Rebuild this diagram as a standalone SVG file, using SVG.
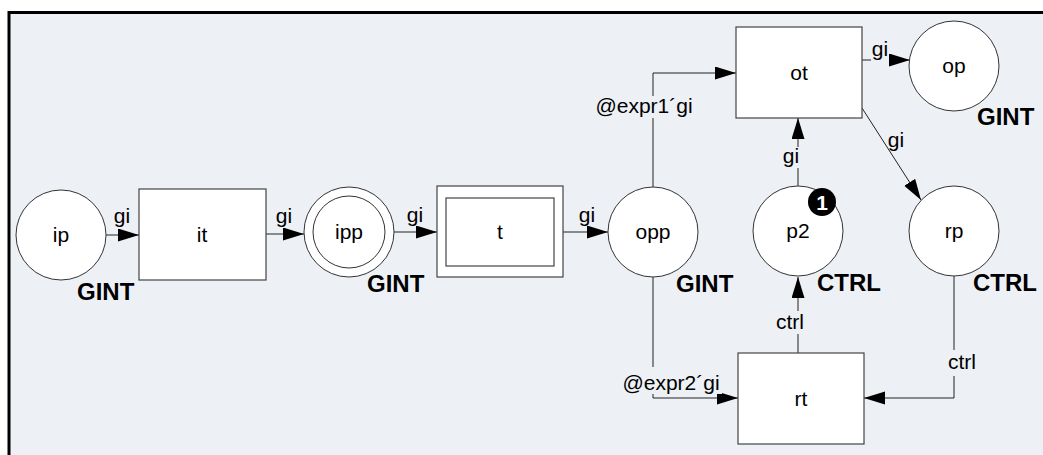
<svg xmlns="http://www.w3.org/2000/svg" width="1043" height="455" viewBox="0 0 1043 455">
  <style>
    .place { fill: #ffffff; stroke: #333333; stroke-width: 1; }
    .trans { fill: #ffffff; stroke: #444444; stroke-width: 1.2; }
    .name { font-family: "Liberation Sans", Arial, sans-serif; font-size: 21px; fill: #000000; text-anchor: middle; }
    .type { font-family: "Liberation Sans", Arial, sans-serif; font-size: 24px; font-weight: bold; fill: #000000; }
    .arc { fill: none; stroke: #222222; stroke-width: 1; marker-end: url(#head); }
    .lbl { font-family: "Liberation Sans", Arial, sans-serif; font-size: 21px; fill: #000000; text-anchor: middle; }
    .lblbg { fill: #edf0f5; }
  </style>
  <defs>
    <marker id="head" markerWidth="22" markerHeight="14" refX="21" refY="6.5" orient="auto" markerUnits="userSpaceOnUse">
      <path d="M0,0 L21,6.5 L0,13 Z" fill="#000000"/>
    </marker>
  </defs>

  <!-- page frame -->
  <rect x="0" y="0" width="1043" height="455" fill="#ffffff"/>
  <rect x="9" y="12" width="1034" height="443" fill="#edf0f5"/>
  <path d="M9,455 V12.5 H1043" fill="none" stroke="#000000" stroke-width="3"/>

  <!-- arcs -->
  <g id="connectors">
    <path class="arc" d="M106,235 H139"/>
    <path class="arc" d="M266,234 H304"/>
    <path class="arc" d="M394,232 H437"/>
    <path class="arc" d="M563,232 H608"/>
    <path class="arc" d="M653,187 V73 H736"/>
    <path class="arc" d="M862,60 H910"/>
    <path class="arc" d="M862,108 L921,200"/>
    <path class="arc" d="M798,186 V118"/>
    <path class="arc" d="M798,353 V277"/>
    <path class="arc" d="M653,277 V398 H738"/>
    <path class="arc" d="M954,276 V398 H864"/>

    <!-- arc inscriptions -->
    <text class="lbl" x="122" y="223">gi</text>
    <text class="lbl" x="284" y="223">gi</text>
    <text class="lbl" x="415" y="222">gi</text>
    <text class="lbl" x="587" y="222">gi</text>
    <rect class="lblbg" x="594" y="96" width="100" height="22"/>
    <text class="lbl" x="644" y="113">@expr1´gi</text>
    <rect class="lblbg" x="871" y="41" width="18" height="22"/>
    <text class="lbl" x="880" y="56">gi</text>
    <text class="lbl" x="896" y="147">gi</text>
    <rect class="lblbg" x="781" y="147" width="20" height="21"/>
    <text class="lbl" x="791" y="163">gi</text>
    <rect class="lblbg" x="774" y="311" width="32" height="23"/>
    <text class="lbl" x="790" y="329">ctrl</text>
    <rect class="lblbg" x="620" y="367" width="102" height="27"/>
    <text class="lbl" x="671" y="390">@expr2´gi</text>
    <rect class="lblbg" x="946" y="350" width="32" height="26"/>
    <text class="lbl" x="962" y="369">ctrl</text>
  </g>

  <!-- places -->
  <g id="ip">
    <circle class="place" cx="61" cy="235" r="45"/>
    <text class="name" x="61" y="242">ip</text>
    <text class="type" x="77" y="300">GINT</text>
  </g>
  <g id="ipp">
    <circle class="place" cx="349" cy="232" r="45"/>
    <circle class="place" cx="349" cy="232" r="36"/>
    <text class="name" x="349" y="239">ipp</text>
    <text class="type" x="367" y="292">GINT</text>
  </g>
  <g id="opp">
    <circle class="place" cx="653" cy="232" r="45"/>
    <text class="name" x="653" y="239">opp</text>
    <text class="type" x="676" y="292">GINT</text>
  </g>
  <g id="op">
    <circle class="place" cx="954" cy="66" r="45"/>
    <text class="name" x="954" y="73">op</text>
    <text class="type" x="977" y="125">GINT</text>
  </g>
  <g id="p2">
    <circle class="place" cx="798" cy="231" r="45"/>
    <text class="name" x="798" y="238">p2</text>
    <text class="type" x="817" y="291">CTRL</text>
    <circle cx="822" cy="202" r="14" fill="#000000"/>
    <text x="822" y="210" fill="#ffffff" font-family="Liberation Sans, Arial, sans-serif" font-size="21" font-weight="bold" text-anchor="middle">1</text>
  </g>
  <g id="rp">
    <circle class="place" cx="954" cy="231" r="45"/>
    <text class="name" x="954" y="238">rp</text>
    <text class="type" x="973" y="291">CTRL</text>
  </g>

  <!-- transitions -->
  <g id="it">
    <rect class="trans" x="139" y="189" width="127" height="91"/>
    <text class="name" x="202" y="242">it</text>
  </g>
  <g id="t">
    <rect class="trans" x="437" y="186" width="126" height="91"/>
    <rect class="trans" x="446" y="198" width="108" height="68"/>
    <text class="name" x="500" y="239">t</text>
  </g>
  <g id="ot">
    <rect class="trans" x="736" y="27" width="126" height="91"/>
    <text class="name" x="799" y="80">ot</text>
  </g>
  <g id="rt">
    <rect class="trans" x="738" y="353" width="126" height="91"/>
    <text class="name" x="801" y="406">rt</text>
  </g>
</svg>
